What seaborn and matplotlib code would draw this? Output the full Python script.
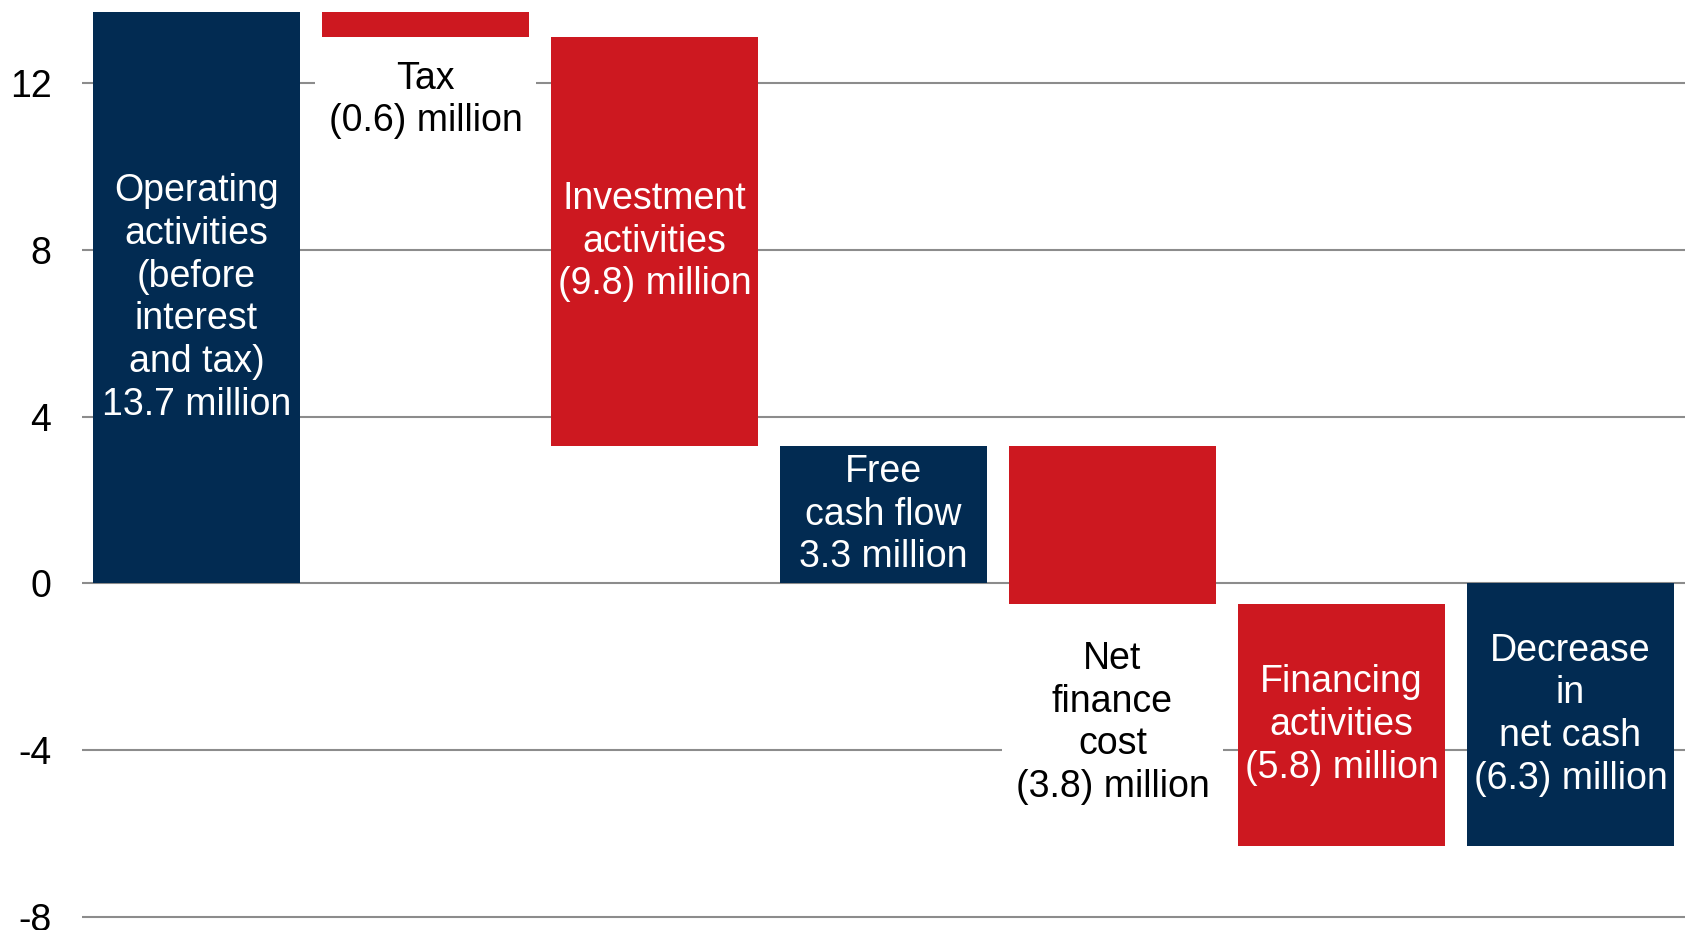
import matplotlib
matplotlib.use("Agg")
import matplotlib.pyplot as plt
import seaborn as sns
import pandas as pd
import numpy as np

# ---- data ----
categories = ["Operating", "Tax", "Investment", "Free cash flow",
              "Net finance cost", "Financing", "Decrease"]
changes = [13.7, -0.6, -9.8, 3.3, -3.8, -5.8, -6.3]
is_total = [True, False, False, True, False, False, True]
labels = [
    "Operating\nactivities\n(before\ninterest\nand tax)\n13.7 million",
    "Tax\n(0.6) million",
    "Investment\nactivities\n(9.8) million",
    "Free\ncash flow\n3.3 million",
    "Net\nfinance\ncost\n(3.8) million",
    "Financing\nactivities\n(5.8) million",
    "Decrease\nin\nnet cash\n(6.3) million",
]
label_inside = [True, False, True, True, False, True, True]
y_ticks = [-8, -4, 0, 4, 8, 12]

NAVY = "#022B52"
RED = "#CD1820"

# compute waterfall bottoms
bottoms = []
running = 0.0
for ch, tot in zip(changes, is_total):
    if tot:
        bottoms.append(0.0)
        running = ch
    else:
        bottoms.append(running)
        running = running + ch
df = pd.DataFrame({"cat": categories, "height": changes, "bottom": bottoms,
                   "total": is_total, "label": labels, "inside": label_inside})

sns.set_theme(style="white")
plt.rcParams["font.family"] = ["Liberation Sans", "DejaVu Sans"]
plt.rcParams["axes.unicode_minus"] = False

fig = plt.figure(figsize=(16.9, 9.3), dpi=100)
ax = fig.add_axes([82 / 1690, 0.0, (1685 - 82) / 1690, 1.0])

for tot, color in [(True, NAVY), (False, RED)]:
    sub = df[df["total"] == tot]
    sns.barplot(data=sub, x="cat", y="height", order=categories,
                bottom=sub["bottom"].values, color=color, saturation=1,
                width=0.905, errorbar=None, ax=ax, zorder=3, linewidth=0)

ax.set_xlim(-0.5, len(categories) - 0.5)
ax.set_ylim(-8.32, 14.0)
ax.set_yticks(y_ticks)
ax.set_yticklabels([str(t) for t in y_ticks], fontsize=27, color="black")
ax.tick_params(axis="y", length=0, pad=22)
ax.set_xticks([])
ax.set_xlabel("")
ax.set_ylabel("")
for s in ax.spines.values():
    s.set_visible(False)
ax.yaxis.grid(True, color="#8C8C8C", linewidth=1.5, zorder=0)
ax.set_axisbelow(True)

for i, row in df.iterrows():
    b0 = row["bottom"]
    b1 = row["bottom"] + row["height"]
    lo, hi = min(b0, b1), max(b0, b1)
    nlines = row["label"].count("\n") + 1
    if row["inside"]:
        ax.text(i, (lo + hi) / 2, row["label"], ha="center", va="center",
                multialignment="center", fontsize=27, color="white",
                linespacing=1.24, zorder=5)
    else:
        ax.text(i, lo - (0.675 * nlines + 0.15), row["label"], ha="center",
                va="center", multialignment="center", fontsize=27,
                color="black", linespacing=1.24, zorder=5,
                bbox=dict(facecolor="white", edgecolor="none", pad=10))

fig.savefig("out.png", dpi=100)
